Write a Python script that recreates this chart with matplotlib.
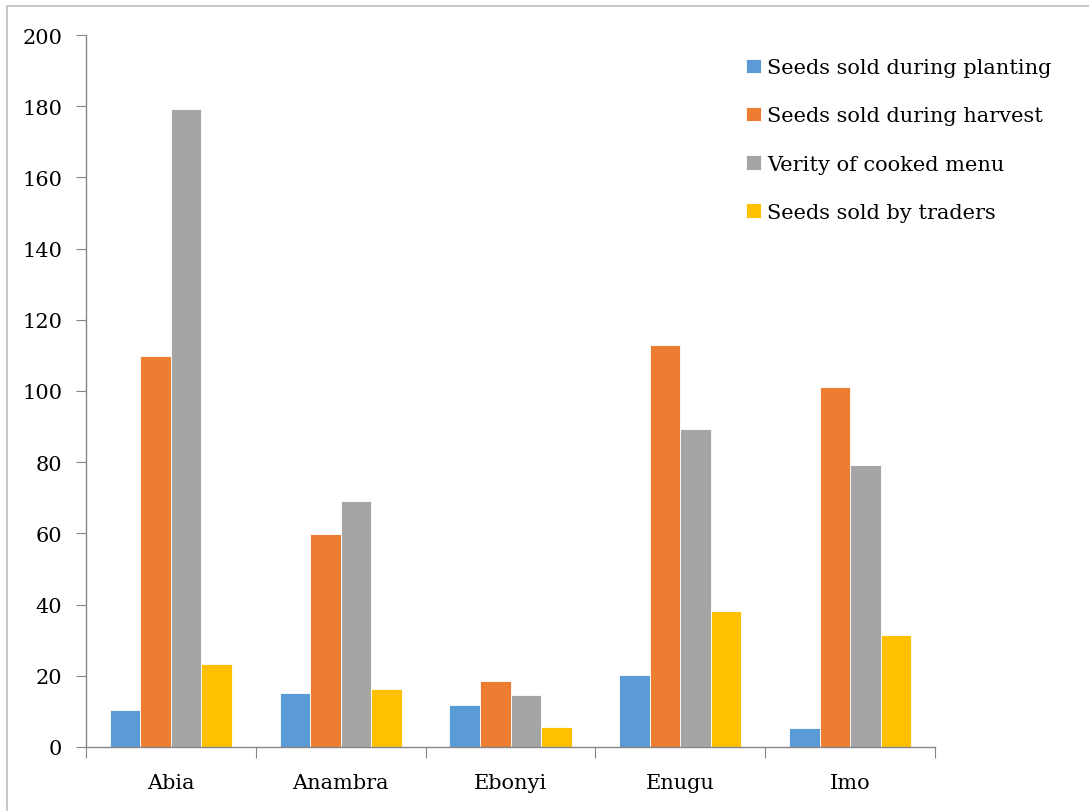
import numpy as np
import matplotlib
matplotlib.use("Agg")
from matplotlib import pyplot as plt
from matplotlib.patches import Rectangle

# data
states = ["Abia", "Anambra", "Ebonyi", "Enugu", "Imo"]
planting = [10.3, 15.3, 11.7, 20.2, 5.3]
harvest = [109.8, 59.8, 18.4, 113.0, 101.1]
menu = [179.2, 69.1, 14.7, 89.3, 79.2]
traders = [23.2, 16.2, 5.7, 38.1, 31.5]
series_names = ["Seeds sold during planting", "Seeds sold during harvest",
                "Verity of cooked menu", "Seeds sold by traders"]
colors = ["#5b9bd5", "#ed7d31", "#a5a5a5", "#ffc000"]

plt.rcParams['font.family'] = ['DejaVu Serif', 'Liberation Serif']
FS = 15


def main():
    fig = plt.figure(figsize=(10.89, 8.12), dpi=100)
    ax = fig.add_axes([86 / 1089, 1 - 748 / 812, (935 - 86) / 1089, (748 - 36) / 812])

    # outer chart frame (only top/left visible in the reference)
    fig.patches.append(Rectangle((7 / 1089, -0.5), 2, 0.5 + 1 - 7 / 812,
                                 transform=fig.transFigure, fill=False,
                                 edgecolor="#bfbfbf", linewidth=1.2))

    x = np.arange(len(states))
    w = 0.18
    data = [planting, harvest, menu, traders]
    for i, vals in enumerate(data):
        ax.bar(x + (i - 1.5) * w, vals, w, color=colors[i], label=series_names[i],
               edgecolor="white", linewidth=0.6)

    ax.set_xlim(-0.5, len(states) - 0.5)
    ax.set_ylim(0, 200)
    ax.set_yticks(range(0, 201, 20))
    ax.set_xticks(np.arange(-0.5, len(states)), minor=False)
    ax.set_xticklabels([])
    ax.set_xticks(x, minor=True)
    ax.set_xticklabels(states, minor=True)
    ax.tick_params(axis='x', which='major', length=8, color="#868686", direction='out')
    ax.tick_params(axis='x', which='minor', length=0, pad=19, labelsize=FS)
    ax.tick_params(axis='y', length=7, color="#868686", pad=10, labelsize=FS)

    for s in ["top", "right"]:
        ax.spines[s].set_visible(False)
    for s in ["left", "bottom"]:
        ax.spines[s].set_color("#868686")
        ax.spines[s].set_linewidth(1.0)

    ax.legend(loc="upper left", bbox_to_anchor=(0.768, 0.979), frameon=False,
              fontsize=FS, handlelength=0.7, handleheight=0.7, handletextpad=0.3,
              labelspacing=1.4, borderaxespad=0)

    fig.savefig("out.png", dpi=100)


if __name__ == '__main__':
    main()
